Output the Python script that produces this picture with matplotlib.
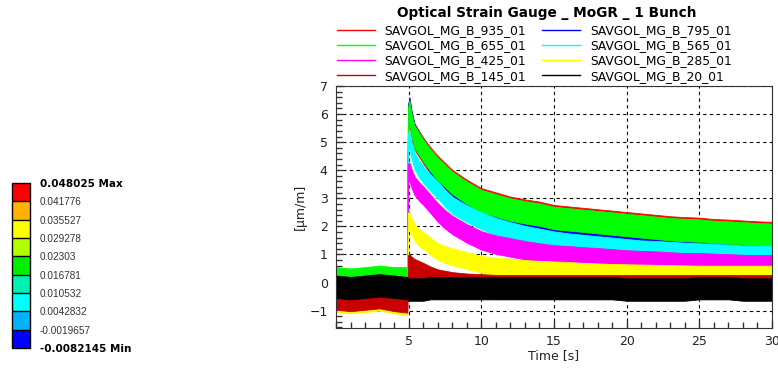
import numpy as np
import matplotlib.pyplot as plt
from matplotlib.colors import ListedColormap, BoundaryNorm
from matplotlib.cm import ScalarMappable
from matplotlib.lines import Line2D
from matplotlib.ticker import MultipleLocator

T = [0, 1, 2, 3, 4, 4.9, 4.95, 5.05, 5.2, 5.4, 5.7, 6, 6.5, 7, 7.5, 8,
     9, 10, 11, 12, 13, 14, 15, 16, 17, 18, 19, 20, 21, 22, 23, 24, 25,
     26, 27, 28, 29, 30]

names = ['SAVGOL_MG_B_935_01', 'SAVGOL_MG_B_795_01', 'SAVGOL_MG_B_655_01',
         'SAVGOL_MG_B_565_01', 'SAVGOL_MG_B_425_01', 'SAVGOL_MG_B_285_01',
         'SAVGOL_MG_B_145_01', 'SAVGOL_MG_B_20_01']
colors = ['#ff0000', '#0000ff', '#00ff00', '#00ffff', '#ff00ff', '#ffff00',
          '#c80000', '#000000']

# band centre [um/m]
mg935 = [-0.55, -0.6, -0.55, -0.5, -0.6, -0.6, 5.8, 6.1, 5.6, 5.2, 4.95, 4.7,
         4.35, 4.05, 3.8, 3.55, 3.2, 2.9, 2.75, 2.6, 2.5, 2.42, 2.3, 2.25,
         2.2, 2.15, 2.1, 2.05, 2.0, 1.95, 1.9, 1.87, 1.85, 1.8, 1.78, 1.75,
         1.72, 1.7]
mg795 = [-0.3, -0.35, -0.3, -0.25, -0.3, -0.3, 5.9, 6.2, 5.7, 5.25, 4.95, 4.7,
         4.3, 4.0, 3.75, 3.5, 3.1, 2.8, 2.6, 2.4, 2.25, 2.15, 2.05, 2.0, 1.95,
         1.9, 1.85, 1.8, 1.75, 1.7, 1.65, 1.62, 1.6, 1.55, 1.52, 1.5, 1.48,
         1.45]
mg655 = [0.15, 0.1, 0.15, 0.2, 0.15, 0.15, 5.8, 6.1, 5.6, 5.2, 4.95, 4.7,
         4.35, 4.05, 3.8, 3.55, 3.2, 2.9, 2.75, 2.6, 2.5, 2.42, 2.3, 2.25,
         2.2, 2.15, 2.1, 2.05, 2.0, 1.95, 1.9, 1.87, 1.85, 1.8, 1.78, 1.75,
         1.72, 1.7]
mg565 = [-0.35, -0.4, -0.35, -0.3, -0.35, -0.4, 5.0, 5.1, 4.7, 4.35, 4.05,
         3.85, 3.55, 3.3, 3.0, 2.75, 2.45, 2.2, 2.0, 1.85, 1.72, 1.62, 1.52,
         1.45, 1.4, 1.35, 1.3, 1.25, 1.2, 1.18, 1.15, 1.12, 1.1, 1.07, 1.05,
         1.02, 1.0, 1.0]
mg425 = [-0.7, -0.75, -0.7, -0.65, -0.75, -0.8, 3.9, 3.95, 3.7, 3.45, 3.25,
         3.1, 2.8, 2.5, 2.25, 2.05, 1.75, 1.5, 1.35, 1.25, 1.15, 1.07, 1.0,
         0.97, 0.93, 0.9, 0.86, 0.82, 0.8, 0.78, 0.75, 0.72, 0.72, 0.7, 0.68,
         0.66, 0.65, 0.65]
mg285 = [-0.75, -0.8, -0.75, -0.7, -0.8, -0.85, 2.2, 2.2, 2.0, 1.8, 1.6,
         1.5, 1.3, 1.1, 1.0, 0.92, 0.78, 0.65, 0.58, 0.55, 0.5, 0.47, 0.45,
         0.43, 0.4, 0.38, 0.36, 0.35, 0.34, 0.33, 0.32, 0.31, 0.3, 0.3, 0.3,
         0.3, 0.3, 0.3]
mg145 = [-0.55, -0.6, -0.55, -0.5, -0.6, -0.65, 0.55, 0.6, 0.5, 0.42, 0.35,
         0.28, 0.15, 0.05, 0.0, -0.05, -0.1, -0.12, -0.15, -0.15, -0.15, -0.15,
         -0.15, -0.15, -0.15, -0.15, -0.15, -0.15, -0.15, -0.15, -0.15, -0.15,
         -0.15, -0.15, -0.15, -0.15, -0.15, -0.15]
mg20 = [-0.15, -0.2, -0.15, -0.1, -0.15, -0.2, -0.25, -0.25, -0.25, -0.25,
        -0.25, -0.25, -0.2, -0.2, -0.2, -0.2, -0.2, -0.2, -0.2, -0.2, -0.2,
        -0.2, -0.2, -0.2, -0.2, -0.2, -0.2, -0.25, -0.25, -0.25, -0.25, -0.25,
        -0.2, -0.2, -0.2, -0.25, -0.25, -0.25]
series = [mg935, mg795, mg655, mg565, mg425, mg285, mg145, mg20]
# half width of the noise band of each trace
spread = [0.46, 0.4, 0.4, 0.3, 0.33, 0.3, 0.42, 0.4]

# ANSYS style legend on the left
cb_values = [0.048025, 0.041776, 0.035527, 0.029278, 0.02303, 0.016781,
             0.010532, 0.0042832, -0.0019657, -0.0082145]
cb_labels = ['0.048025 Max', '0.041776', '0.035527', '0.029278', '0.02303',
             '0.016781', '0.010532', '0.0042832', '-0.0019657',
             '-0.0082145 Min']
cb_colors = ['#ff0000', '#ffb200', '#ffff00', '#b2ff00', '#00ee00',
             '#00f0b2', '#00ffff', '#00b2ff', '#0000ff']

fig = plt.figure(figsize=(7.78, 3.70), dpi=100)
ax = fig.add_axes([0.4319, 0.1135, 0.5604, 0.6541])

t = np.array(T)
for y, c, s in zip(series, colors, spread):
    y = np.array(y)
    ax.fill_between(t, y - s, y + s, color=c, lw=0.6, edgecolor=c)

ax.set_xlim(0, 30)
ax.set_ylim(-1.62, 7)
ax.set_xticks([5, 10, 15, 20, 25, 30])
ax.set_yticks(range(-1, 8))
ax.xaxis.set_minor_locator(MultipleLocator(1))
ax.yaxis.set_minor_locator(MultipleLocator(0.2))
ax.tick_params(which='both', direction='in', colors='#333333',
               labelsize=9, labelcolor='#222222')
ax.tick_params(which='major', length=5, width=1)
ax.tick_params(which='minor', length=4, width=1)
ax.tick_params(axis='y', pad=6)
ax.tick_params(axis='x', pad=5)
ax.set_axisbelow(True)
ax.grid(True, which='major', color='black', ls=(0, (3, 3)), lw=0.8)
for sp in ax.spines.values():
    sp.set_color('#333333')
ax.set_xlabel('Time [s]', fontsize=9, labelpad=1, color='#222222')
ax.set_ylabel('[µm/m]', fontsize=9, labelpad=2, color='#222222')

fig.text(0.703, 0.965, 'Optical Strain Gauge _ MoGR _ 1 Bunch',
         fontsize=9.8, fontweight='bold', ha='center', va='center')

handles = [Line2D([], [], color=c, lw=1) for c in colors]
order = [0, 2, 4, 6, 1, 3, 5, 7]
fig.legend([handles[i] for i in order], [names[i] for i in order], ncol=2,
           loc='upper left', bbox_to_anchor=(0.433, 0.935), frameon=False,
           fontsize=8.8, handlelength=3.1, handletextpad=0.8,
           columnspacing=1.3, labelspacing=0.18, borderpad=0,
           borderaxespad=0)

# colour legend
cax = fig.add_axes([0.0154, 0.0595, 0.0231, 0.446])
bounds = cb_values[::-1]
cmap = ListedColormap(cb_colors[::-1])
norm = BoundaryNorm(bounds, cmap.N)
cb = fig.colorbar(ScalarMappable(norm=norm, cmap=cmap), cax=cax,
                  drawedges=True, ticks=bounds, spacing='uniform')
cb.outline.set_linewidth(1)
cb.dividers.set_linewidth(1)
cax.tick_params(length=0, pad=7)
cax.set_yticks(bounds, cb_labels[::-1])
for i, lab in enumerate(cax.get_yticklabels()):
    lab.set_family('Liberation Sans')
    lab.set_fontsize(7.2)
    lab.set_color('#333333')
    if i in (0, len(bounds) - 1):
        lab.set_fontweight('bold')
        lab.set_family('DejaVu Sans')
        lab.set_fontsize(7.5)
        lab.set_color('black')

fig.savefig('out.png', dpi=100)
